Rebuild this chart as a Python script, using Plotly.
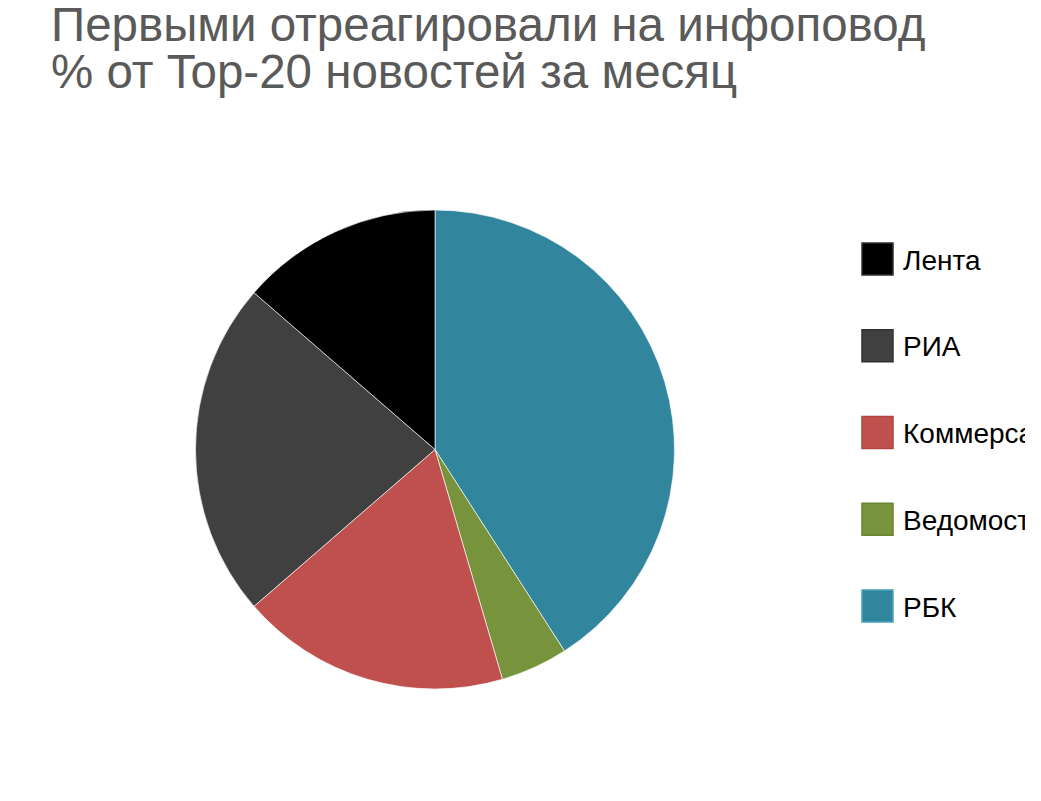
import plotly.graph_objects as go

labels = ["Лента", "РИА", "Коммерсантъ", "Ведомости", "РБК"]
values = [3, 5, 4, 1, 9]
colors = ["#000000", "#404040", "#C0504D", "#77933C", "#31859C"]
borders = ["#303030", "#303030", "#B04542", "#6A8434", "#4AA3BA"]

title_lines = ["Первыми отреагировали на инфоповод", "% от Top-20 новостей за месяц"]

OFF = 8          # page body margin offset
PW, PH = 1017, 801


def px(sx):
    return (sx - OFF) / PW


def py(sy):
    return 1 - (sy - OFF) / PH


fig = go.Figure()
fig.add_trace(go.Pie(
    labels=labels[::-1], values=values[::-1], sort=False, direction="clockwise",
    marker=dict(colors=colors[::-1], line=dict(color="rgba(255,255,255,0.8)", width=0.8)),
    textinfo="none", hoverinfo="label+percent", showlegend=False,
    domain=dict(x=[px(195), px(675)], y=[py(689), py(210)]),
))

shapes = []
annotations = []
y0 = 259
step = 86.75
for i, (lab, col, bc) in enumerate(zip(labels, colors, borders)):
    cy = y0 + i * step
    shapes.append(dict(type="rect", xref="paper", yref="paper",
                       x0=px(862), x1=px(893), y0=py(cy + 16), y1=py(cy - 16),
                       fillcolor=col, line=dict(color=bc, width=1.5)))
    annotations.append(dict(text=lab, xref="paper", yref="paper", x=px(901), y=py(cy + 1),
                            xanchor="left", yanchor="middle", showarrow=False,
                            font=dict(size=28, color="#000000", family="Liberation Sans, Arial")))

baselines = [39, 87]
for line, bl in zip(title_lines, baselines):
    annotations.append(dict(text=line, xref="paper", yref="paper", x=px(49), y=py(bl - 15),
                            xanchor="left", yanchor="middle", showarrow=False,
                            font=dict(size=47.5, color="#5a5a5a", family="Liberation Sans, Arial")))

fig.update_layout(
    width=PW, height=PH,
    margin=dict(l=0, r=0, t=0, b=0),
    paper_bgcolor="white", plot_bgcolor="white",
    shapes=shapes, annotations=annotations,
)

fig.write_html("out.html")
